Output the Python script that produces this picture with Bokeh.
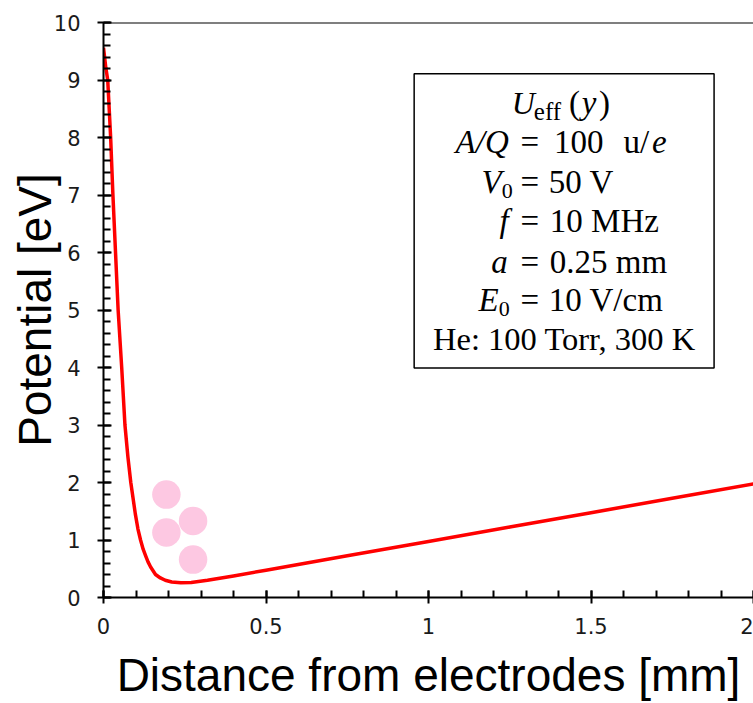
from bokeh.plotting import figure
from bokeh.models import Range1d, SingleIntervalTicker, BoxAnnotation, Label, Span
from bokeh.embed import file_html
from bokeh.resources import INLINE

# Effective potential U_eff(y) versus distance from the electrodes
distance_mm = [0.000, 0.003, 0.007, 0.013, 0.022, 0.029, 0.037, 0.045, 0.056,
               0.066, 0.075, 0.084, 0.098, 0.106, 0.114, 0.122, 0.130, 0.137,
               0.145, 0.152, 0.160, 0.175, 0.190, 0.210, 0.238, 0.270, 0.320,
               0.400, 0.500, 0.750, 1.000, 1.250, 1.500, 1.750, 2.000]
potential_ev = [9.56, 9.42, 9.22, 9.00, 8.00, 7.00, 6.00, 5.00, 4.00,
                3.00, 2.45, 2.00, 1.45, 1.19, 1.00, 0.84, 0.72, 0.62,
                0.53, 0.47, 0.40, 0.34, 0.30, 0.27, 0.255, 0.262, 0.30,
                0.375, 0.475, 0.725, 0.975, 1.225, 1.475, 1.725, 1.975]

# Trapped ions sketched near the potential minimum
ion_x = [0.1935, 0.1935, 0.2756, 0.2756]
ion_y = [1.79, 1.13, 1.33, 0.66]

x_tick_values = [0, 0.5, 1, 1.5, 2]
x_tick_labels = ["0", "0.5", "1", "1.5", "2"]

X_TITLE = "Distance from electrodes [mm]"
Y_TITLE = "Potential [eV]"

# frame geometry (pixels) used to place the annotation texts
FRAME_LEFT, FRAME_BOTTOM = 103, 598
PX_PER_MM, PX_PER_EV = 324.0, 57.6

p = figure(width=753, height=703, output_backend="svg", toolbar_location=None,
           x_range=Range1d(0, 2), y_range=Range1d(0, 10),
           min_border_left=FRAME_LEFT, min_border_right=0,
           min_border_top=22, min_border_bottom=703 - FRAME_BOTTOM)
p.outline_line_color = None
p.grid.visible = False
p.background_fill_color = "white"
p.border_fill_color = "white"

SANS = "Liberation Sans"
SERIF = "Liberation Serif"
TICK_FONT = "DejaVu Sans"

for ax in (p.xaxis[0], p.yaxis[0]):
    ax.axis_line_width = 2
    ax.axis_line_color = "black"
    ax.major_tick_line_width = 2
    ax.minor_tick_line_width = 2
    ax.major_tick_line_color = "black"
    ax.minor_tick_line_color = "black"
    ax.major_tick_out = 6
    ax.minor_tick_out = 0
    ax.minor_tick_in = 7
    ax.major_label_text_font = TICK_FONT
    ax.major_label_text_font_size = "21px"
    ax.major_label_text_color = "#1a1a1a"
    ax.axis_label_text_font = SANS
    ax.axis_label_text_font_style = "normal"
    ax.axis_label_text_color = "black"
    ax.axis_label_text_font_size = "46px"

p.xaxis.ticker = SingleIntervalTicker(interval=0.5, num_minor_ticks=5)
p.xaxis.major_label_overrides = dict(zip(x_tick_values, x_tick_labels))
p.xaxis.major_tick_in = 7
p.xaxis.major_label_standoff = 14
p.xaxis.axis_label = X_TITLE
p.xaxis.axis_label_standoff = 12

p.yaxis.ticker = SingleIntervalTicker(interval=1, num_minor_ticks=5)
p.yaxis.major_tick_in = 8
p.yaxis.major_label_standoff = 17
p.yaxis.axis_label = Y_TITLE
p.yaxis.axis_label_standoff = -10

# top border of the frame
p.add_layout(Span(location=10, dimension="width", line_color="black", line_width=2))

p.scatter(ion_x, ion_y, marker="circle", size=28.5,
          fill_color="#FDC8E2", line_color=None)
p.line(distance_mm, potential_ev, line_color="#FF0000", line_width=3.5,
       line_join="round")


def to_x(px):
    return (px - FRAME_LEFT) / PX_PER_MM


def to_y(py):
    return (FRAME_BOTTOM - py) / PX_PER_EV


# parameter box
p.add_layout(BoxAnnotation(left=to_x(412.7), right=to_x(711.7),
                           bottom=to_y(368), top=to_y(73.3),
                           fill_color="white", fill_alpha=1.0,
                           line_color="black", line_alpha=1.0, line_width=1.5))


def put(text, px, py, size=33, italic=False, align="left", font=SERIF):
    # py is the wanted baseline; the label box sits a little below it
    lift = 0.31 * size
    p.add_layout(Label(x=to_x(px), y=to_y(py - lift), text=text, text_font=font,
                       text_font_size=f"{size}px",
                       text_font_style="italic" if italic else "normal",
                       text_align=align, text_baseline="alphabetic",
                       text_color="black"))


EQ = 528

# U_eff(y)
put("U", 510, 113, size=32, italic=True)
put("eff", 532, 119, size=25)
put("(", 578, 113, align="right")
put("y", 587, 113, italic=True, align="center")
put(")", 597, 113)

# A/Q = 100 u/e
put("A/Q", 507, 152, italic=True, align="right")
put("=", EQ, 152, align="center")
put("100", 552, 152)
put("u/", 647, 152, align="right")
put("e", 657, 152, italic=True, align="center")

# V0 = 50 V
put("V", 500, 192, italic=True, align="right")
put("0", 500, 198, size=22)
put("=", EQ, 192, align="center")
put("50 V", 547, 192)

# f = 10 MHz
put("f", 507, 231, italic=True, align="right")
put("=", EQ, 231, align="center")
put("10 MHz", 548, 231)

# a = 0.25 mm
put("a", 506, 272, italic=True, align="right")
put("=", EQ, 272, align="center")
put("0.25 mm", 548, 272)

# E0 = 10 V/cm
put("E", 497, 310, italic=True, align="right")
put("0", 497, 316, size=22)
put("=", EQ, 310, align="center")
put("10 V/cm", 547, 310)

# buffer gas
put("He: 100 Torr, 300 K", 562.5, 349, size=32.5, align="center")

open("out.html", "w").write(file_html(p, INLINE))
